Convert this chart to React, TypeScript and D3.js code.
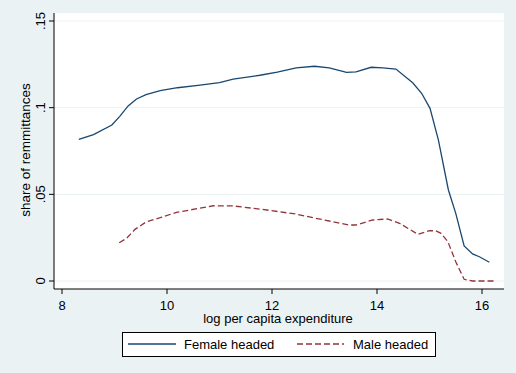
import React from "react";
import * as d3 from "d3";

const femaleX = [8.32, 8.6, 8.95, 9.1, 9.26, 9.42, 9.6, 9.87, 10.2, 10.63, 11.0, 11.26, 11.77, 12.1, 12.46, 12.81, 13.09, 13.42, 13.6, 13.89, 14.11, 14.36, 14.68, 14.85, 15.01, 15.17, 15.36, 15.5, 15.66, 15.82, 15.95, 16.14];
const femaleY = [0.0817, 0.0845, 0.09, 0.095, 0.101, 0.105, 0.1075, 0.1098, 0.1115, 0.113, 0.1145, 0.1165, 0.1187, 0.1205, 0.1229, 0.1239, 0.123, 0.1204, 0.1206, 0.1233, 0.1229, 0.1223, 0.1144, 0.1083, 0.0996, 0.0813, 0.0525, 0.039, 0.0202, 0.0156, 0.014, 0.0108];
const maleX = [9.09, 9.23, 9.39, 9.61, 9.87, 10.18, 10.44, 10.88, 11.26, 11.77, 12.46, 12.78, 13.16, 13.47, 13.6, 13.92, 14.2, 14.43, 14.78, 15.0, 15.12, 15.22, 15.35, 15.5, 15.66, 15.82, 16.0, 16.25];
const maleY = [0.0221, 0.0246, 0.0298, 0.0342, 0.0365, 0.0396, 0.041, 0.0434, 0.0433, 0.0415, 0.0386, 0.0365, 0.0342, 0.0323, 0.0323, 0.0352, 0.0358, 0.0333, 0.0269, 0.029, 0.029, 0.0275, 0.0227, 0.0111, 0.001, 0, 0, 0];
const xTicks = [8, 10, 12, 14, 16];
const yTicks = [0, 0.05, 0.1, 0.15];
const yTickLabels = ["0", ".05", ".1", ".15"];
const seriesNames = ["Female headed", "Male headed"];
const xTitle = "log per capita expenditure";
const yTitle = "share of remmittances";

const W = 516, H = 373;
const font = "Liberation Sans, Arial, sans-serif";
const fs = 13;

export default function App() {
  const x = d3.scaleLinear().domain([8, 16]).range([62, 482]);
  const y = d3.scaleLinear().domain([0, 0.15]).range([281, 21]);
  const line = d3.line<[number, number]>().x(d => x(d[0])).y(d => y(d[1]));
  const fPts = femaleX.map((v, i) => [v, femaleY[i]] as [number, number]);
  const mPts = maleX.map((v, i) => [v, maleY[i]] as [number, number]);
  const plotL = 54, plotR = 504, plotT = 13, plotB = 289;
  return (
    <svg width={W} height={H} style={{ position: "absolute", left: 0, top: 0 }} fontFamily={font}>
      <rect x={0} y={0} width={W} height={H} fill="#eaf2f3" />
      <rect x={plotL} y={plotT} width={plotR - plotL} height={plotB - plotT} fill="#ffffff" />
      {yTicks.map((t, i) => (
        <g key={i}>
          <line x1={plotL} x2={plotR} y1={y(t)} y2={y(t)} stroke="#eaf2f3" strokeWidth={1} />
          <line x1={plotL - 5} x2={plotL} y1={y(t)} y2={y(t)} stroke="#000" strokeWidth={1} />
          <text transform={`translate(${45},${y(t)}) rotate(-90)`} textAnchor="middle" fontSize={fs} fill="#000">{yTickLabels[i]}</text>
        </g>
      ))}
      {xTicks.map((t, i) => (
        <g key={i}>
          <line x1={x(t)} x2={x(t)} y1={plotB} y2={plotB + 5} stroke="#000" strokeWidth={1} />
          <text x={x(t)} y={309.5} textAnchor="middle" fontSize={fs} fill="#000">{t}</text>
        </g>
      ))}
      <line x1={plotL} x2={plotL} y1={plotT} y2={plotB} stroke="#000" strokeWidth={1} />
      <line x1={plotL} x2={plotR} y1={plotB} y2={plotB} stroke="#000" strokeWidth={1} />
      <text x={278} y={322.5} textAnchor="middle" fontSize={fs} fill="#000">{xTitle}</text>
      <text transform={`translate(${30},${150}) rotate(-90)`} textAnchor="middle" fontSize={13.5} fill="#000">{yTitle}</text>
      <path d={line(fPts) || ""} fill="none" stroke="#1a476f" strokeWidth={1.3} />
      <path d={line(mPts) || ""} fill="none" stroke="#90353b" strokeWidth={1.3} strokeDasharray="6,3" />
      <rect x={122.5} y={332.5} width={313} height={24} fill="#fff" stroke="#000" strokeWidth={1} />
      <line x1={128} x2={176} y1={344} y2={344} stroke="#1a476f" strokeWidth={1.3} />
      <text x={184} y={349} fontSize={fs} fill="#000">{seriesNames[0]}</text>
      <line x1={297} x2={344} y1={344} y2={344} stroke="#90353b" strokeWidth={1.3} strokeDasharray="6,3" />
      <text x={353} y={349} fontSize={fs} fill="#000">{seriesNames[1]}</text>
    </svg>
  );
}
